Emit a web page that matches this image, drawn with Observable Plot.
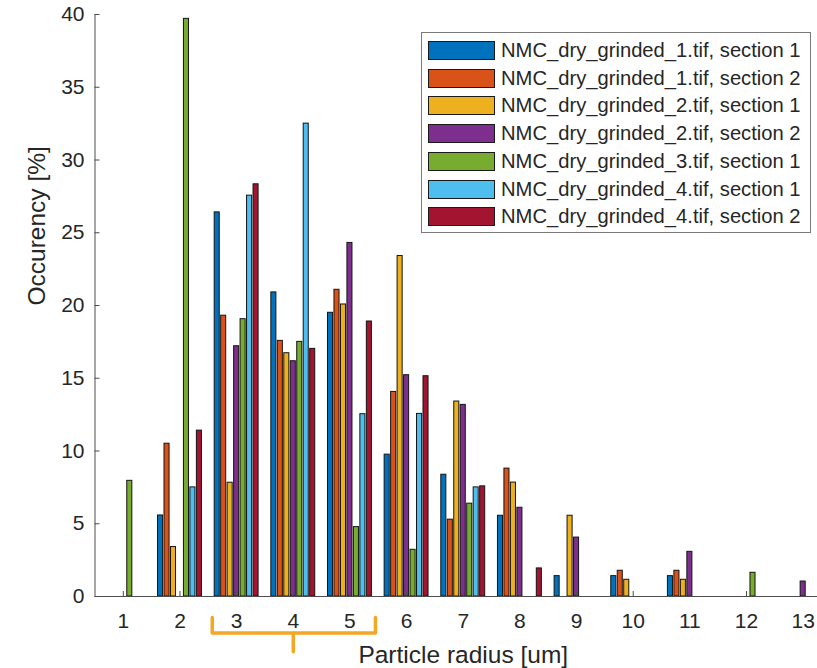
<!DOCTYPE html>
<html>
<head>
<meta charset="utf-8">
<script src="https://cdn.jsdelivr.net/npm/d3@7"></script>
<script src="https://cdn.jsdelivr.net/npm/@observablehq/plot@0.6"></script>
<style>
  html, body { margin: 0; padding: 0; background: #fff; overflow: hidden; }
  #wrap { position: relative; width: 817px; height: 668px; overflow: hidden; }
  #chart { width: 832px; height: 668px; }
  #chart svg { max-width: none !important; width: 832px !important; height: 668px !important; display: block; }
  #legend { position: absolute; left: 421px; top: 32px; width: 390px; height: 201px;
    border: 1px solid #7a7a7a; background: #fff; box-sizing: border-box;
    font-family: "Liberation Sans", Arial, sans-serif; font-size: 20.2px; color: #262626; }
  .row { position: absolute; left: 6px; height: 20px; display: flex; align-items: center; white-space: nowrap; }
  .sw { width: 67px; height: 19px; border: 1px solid #1a1a1a; box-sizing: border-box; margin-right: 6px; flex: none; }
</style>
</head>
<body>
<div id="wrap"><div id="chart"></div><div id="legend"></div></div>
<script>
const radius = [1, 2, 3, 4, 5, 6, 7, 8, 9, 10, 11, 12, 13];
const seriesNames = [
  "NMC_dry_grinded_1.tif, section 1",
  "NMC_dry_grinded_1.tif, section 2",
  "NMC_dry_grinded_2.tif, section 1",
  "NMC_dry_grinded_2.tif, section 2",
  "NMC_dry_grinded_3.tif, section 1",
  "NMC_dry_grinded_4.tif, section 1",
  "NMC_dry_grinded_4.tif, section 2"
];
const seriesColors = ["#0072BD", "#D95319", "#EDB120", "#7E2F8E", "#77AC30", "#4DBEEE", "#A2142F"];

const g1s1 = [0, 5.57, 26.4, 20.9, 19.5, 9.75, 8.37, 5.55, 1.4, 1.4, 1.4, 0, 0];
const g1s2 = [0, 10.5, 19.3, 17.57, 21.08, 14.06, 5.28, 8.79, 0, 1.77, 1.77, 0, 0];
const g2s1 = [0, 3.4, 7.82, 16.72, 20.07, 23.4, 13.4, 7.83, 5.55, 1.15, 1.15, 0, 0];
const g2s2 = [0, 0, 17.2, 16.17, 24.3, 15.21, 13.17, 6.1, 4.05, 0, 3.07, 0, 1.03];
const g3s1 = [7.95, 39.7, 19.06, 17.5, 4.77, 3.21, 6.38, 0, 0, 0, 0, 1.63, 0];
const g4s1 = [0, 7.5, 27.55, 32.5, 12.53, 12.55, 7.5, 0, 0, 0, 0, 0, 0];
const g4s2 = [0, 11.4, 28.33, 17.02, 18.9, 15.14, 7.57, 1.93, 0, 0, 0, 0, 0];
const seriesValues = [g1s1, g1s2, g2s1, g2s2, g3s1, g4s1, g4s2];

const yTicks = [0, 5, 10, 15, 20, 25, 30, 35, 40];
const xLabel = "Particle radius [um]";
const yLabel = "Occurency [%]";

// bracket annotation under radii 3-5 (data units)
const bracketX = [2.57, 2.57, 5.45, 5.45];
const bracketY = [-1.45, -2.5, -2.5, -1.45];
const stemX = [4.0, 4.0];
const stemY = [-2.5, -3.8];

const nS = seriesNames.length;
const groupWidth = 0.8;
const slot = groupWidth / nS;
const barW = slot * 0.78;

const bars = [];
seriesValues.forEach((vals, si) => {
  vals.forEach((v, ri) => {
    if (v > 0) {
      const c = radius[ri] + (si - (nS - 1) / 2) * slot;
      bars.push({ x1: c - barW / 2, x2: c + barW / 2, y: v, s: seriesNames[si] });
    }
  });
});
const bracket = bracketX.map((x, i) => ({ x, y: bracketY[i] }));
const stem = stemX.map((x, i) => ({ x, y: stemY[i] }));

const axisColor = "#4d4d4d";
const font = "Liberation Sans, Arial, sans-serif";

const chart = Plot.plot({
  width: 832,
  height: 668,
  marginLeft: 94.5,
  marginRight: 1,
  marginTop: 14,
  marginBottom: 72,
  style: { fontFamily: font, fontSize: "21px", color: "#262626", background: "#fff", overflow: "visible" },
  x: { type: "linear", domain: [0.5, 13.5] },
  y: { domain: [0, 40] },
  color: { domain: seriesNames, range: seriesColors },
  marks: [
    Plot.rect(bars, { x1: "x1", x2: "x2", y1: 0, y2: "y", fill: "s", stroke: "#141414", strokeWidth: 1 }),
    Plot.ruleY([0], { stroke: axisColor, strokeWidth: 1 }),
    Plot.ruleX([0.5], { stroke: axisColor, strokeWidth: 1 }),
    Plot.axisY({ ticks: yTicks, tickSize: 0, tickPadding: 10.5, label: null, fontSize: 21 }),
    Plot.axisY({ ticks: yTicks, tickSize: 5, text: null, label: null, dx: 5, stroke: axisColor }),
    Plot.axisX({ ticks: radius, tickSize: 0, tickPadding: 17, label: null, fontSize: 21, tickFormat: d => String(d) }),
    Plot.axisX({ ticks: radius, tickSize: 5, text: null, label: null, dy: -5, stroke: axisColor }),
    Plot.text([xLabel], { frameAnchor: "bottom", dy: 59, lineAnchor: "middle", fontSize: 24.5, fill: "#262626" }),
    Plot.text([yLabel], { frameAnchor: "left", dx: -57.5, rotate: -90, lineAnchor: "middle", fontSize: 24.5, fill: "#262626" }),
    Plot.line(bracket, { x: "x", y: "y", stroke: "#F5A623", strokeWidth: 3.5, strokeLinejoin: "round", strokeLinecap: "round", clip: false }),
    Plot.line(stem, { x: "x", y: "y", stroke: "#F5A623", strokeWidth: 3.5, strokeLinecap: "round", clip: false })
  ]
});
document.getElementById("chart").appendChild(chart);

const legend = document.getElementById("legend");
seriesNames.forEach((name, i) => {
  const row = document.createElement("div");
  row.className = "row";
  row.style.top = (7.5 + i * 27.7) + "px";
  const sw = document.createElement("div");
  sw.className = "sw";
  sw.style.background = seriesColors[i];
  const t = document.createElement("span");
  t.textContent = name;
  row.appendChild(sw);
  row.appendChild(t);
  legend.appendChild(row);
});
</script>
</body>
</html>
